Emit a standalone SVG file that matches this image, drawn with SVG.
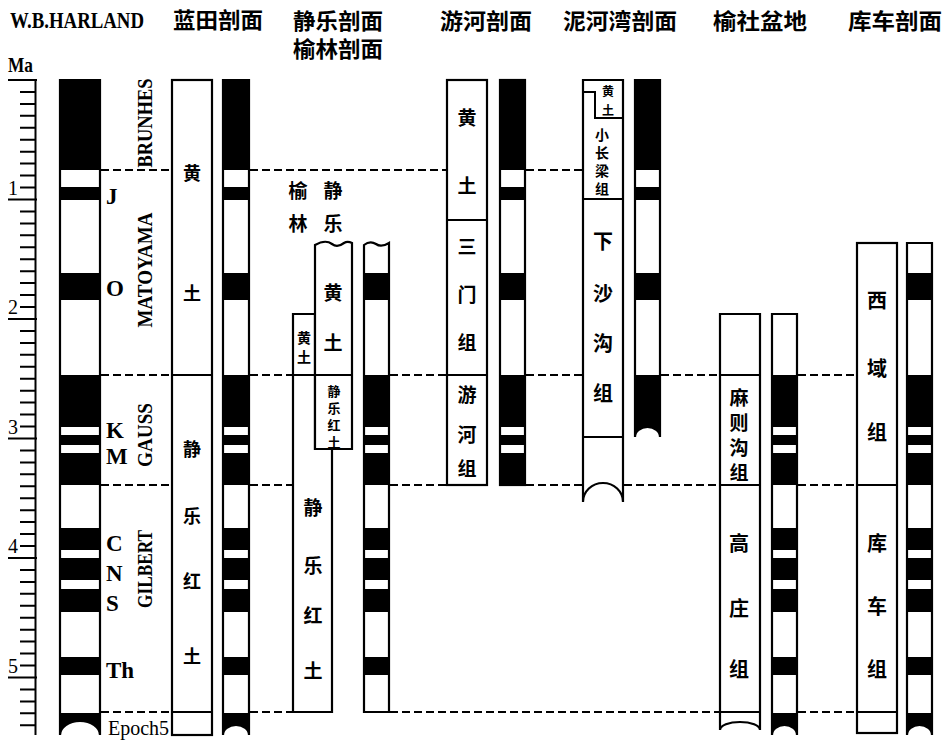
<svg xmlns="http://www.w3.org/2000/svg" width="944" height="740" viewBox="0 0 944 740">
<style>
.box{fill:#fff;stroke:#000;stroke-width:2.2}
.ln{fill:none;stroke:#000;stroke-width:2}
.blk{fill:#000}
.dash{fill:none;stroke:#000;stroke-width:2;stroke-dasharray:8 4}
.cn{font-family:"Noto Sans CJK SC",sans-serif;font-weight:bold;text-anchor:middle;dominant-baseline:central;fill:#000}
.hd{font-family:"Noto Sans CJK SC",sans-serif;font-weight:bold;font-size:22px;text-anchor:middle;fill:#000}
.lat{font-family:"Liberation Serif",serif;fill:#000}
.b{font-weight:bold}
</style>
<rect width="944" height="740" fill="#fff"/>

<g id="headers">
<text class="lat b" x="10" y="28" font-size="24" textLength="134" lengthAdjust="spacingAndGlyphs">W.B.HARLAND</text>
<text class="hd" x="218" y="28" textLength="90" lengthAdjust="spacingAndGlyphs">蓝田剖面</text>
<text class="hd" x="338" y="29" textLength="90" lengthAdjust="spacingAndGlyphs">静乐剖面</text>
<text class="hd" x="338" y="57" textLength="90" lengthAdjust="spacingAndGlyphs">榆林剖面</text>
<text class="hd" x="486" y="29" textLength="92" lengthAdjust="spacingAndGlyphs">游河剖面</text>
<text class="hd" x="620" y="29" textLength="114" lengthAdjust="spacingAndGlyphs">泥河湾剖面</text>
<text class="hd" x="760" y="29" textLength="94" lengthAdjust="spacingAndGlyphs">榆社盆地</text>
<text class="hd" x="895" y="29" textLength="94" lengthAdjust="spacingAndGlyphs">库车剖面</text>
</g>

<g id="ruler">
<text class="lat b" x="8" y="72" font-size="21" textLength="25" lengthAdjust="spacingAndGlyphs">Ma</text>
<path class="ln" stroke-width="2.5" d="M35.5,79 V735"/>
<path class="ln" d="M8,80H37 M20,91.9H35 M20,103.9H35 M20,115.8H35 M20,127.8H35 M20,139.7H35 M20,151.7H35 M20,163.6H35 M20,175.6H35 M20,187.5H35 M8,199.5H37 M20,211.4H35 M20,223.4H35 M20,235.3H35 M20,247.3H35 M20,259.2H35 M20,271.2H35 M20,283.1H35 M20,295.1H35 M20,307H35 M8,319H37 M20,331H35 M20,342.9H35 M20,354.8H35 M20,366.8H35 M20,378.7H35 M20,390.7H35 M20,402.6H35 M20,414.6H35 M20,426.5H35 M8,438.5H37 M20,450.4H35 M20,462.4H35 M20,474.3H35 M20,486.3H35 M20,498.2H35 M20,510.2H35 M20,522.1H35 M20,534.1H35 M20,546H35 M8,558H37 M20,570H35 M20,581.9H35 M20,593.8H35 M20,605.8H35 M20,617.7H35 M20,629.7H35 M20,641.6H35 M20,653.6H35 M20,665.5H35 M8,677.5H37 M20,689.4H35 M20,701.4H35 M20,713.3H35 M20,725.3H35"/>
<text class="lat" x="8" y="195" font-size="20">1</text>
<text class="lat" x="8" y="314" font-size="20">2</text>
<text class="lat" x="8" y="434" font-size="20">3</text>
<text class="lat" x="8" y="553" font-size="20">4</text>
<text class="lat" x="8" y="673" font-size="20">5</text>
</g>

<g id="harland">
<path class="box" d="M60,80 H100 V735 A20,14 0 0 0 60,735 Z"/>
<g class="blk">
<rect x="60" y="80" width="40" height="90"/>
<rect x="60" y="187" width="40" height="13"/>
<rect x="60" y="273" width="40" height="27"/>
<rect x="60" y="375" width="40" height="52"/>
<rect x="60" y="435" width="40" height="10"/>
<rect x="60" y="453" width="40" height="32"/>
<rect x="60" y="528" width="40" height="22"/>
<rect x="60" y="558" width="40" height="22"/>
<rect x="60" y="589" width="40" height="23"/>
<rect x="60" y="657" width="40" height="18"/>
<path d="M60,713 H100 V735 A20,14 0 0 0 60,735 Z"/>
</g>
<g class="lat b" font-size="23">
<text x="106" y="204">J</text>
<text x="106" y="296">O</text>
<text x="106" y="438">K</text>
<text x="106" y="464">M</text>
<text x="106" y="551">C</text>
<text x="106" y="581">N</text>
<text x="106" y="611">S</text>
<text x="106" y="678">Th</text>
</g>
<text class="lat" x="108" y="735" font-size="20">Epoch5</text>
<g class="lat b" font-size="21" text-anchor="middle">
<text transform="translate(152,123) rotate(-90)" textLength="89" lengthAdjust="spacingAndGlyphs">BRUNHES</text>
<text transform="translate(152,270) rotate(-90)" textLength="115" lengthAdjust="spacingAndGlyphs">MATOYAMA</text>
<text transform="translate(152,435) rotate(-90)" textLength="64" lengthAdjust="spacingAndGlyphs">GAUSS</text>
<text transform="translate(152,569) rotate(-90)" textLength="78" lengthAdjust="spacingAndGlyphs">GILBERT</text>
</g>
</g>

<g id="lantian-litho">
<rect class="box" x="172" y="80" width="40" height="655"/>
<path class="ln" d="M172,375 H212 M172,712 H212"/>
<g class="cn" font-size="18">
<text x="192" y="172">黄</text>
<text x="192" y="292">土</text>
<text x="192" y="448">静</text>
<text x="192" y="515">乐</text>
<text x="192" y="580">红</text>
<text x="192" y="655">土</text>
</g>
</g>

<g id="lantian-pol">
<path class="box" d="M223,80 H249 V735 A13,10 0 0 0 223,735 Z"/>
<g class="blk">
<rect x="223" y="80" width="26" height="90"/>
<rect x="223" y="187" width="26" height="13"/>
<rect x="223" y="273" width="26" height="27"/>
<rect x="223" y="375" width="26" height="52"/>
<rect x="223" y="435" width="26" height="10"/>
<rect x="223" y="453" width="26" height="32"/>
<rect x="223" y="528" width="26" height="22"/>
<rect x="223" y="558" width="26" height="22"/>
<rect x="223" y="589" width="26" height="23"/>
<rect x="223" y="657" width="26" height="18"/>
<path d="M223,713 H249 V735 A13,10 0 0 0 223,735 Z"/>
</g>
</g>

<g id="yulin-jingle-label">
<g class="cn" font-size="19">
<text x="298" y="189">榆</text>
<text x="333" y="189">静</text>
<text x="298" y="222">林</text>
<text x="333" y="222">乐</text>
</g>
</g>

<g id="yulin">
<path class="box" d="M293,314 H315 V449 H332 V712 H293 Z"/>
<path class="ln" d="M293,375 H315"/>
<g class="cn" font-size="14">
<text x="304" y="337">黄</text>
<text x="304" y="356">土</text>
</g>
<g class="cn" font-size="19">
<text x="313" y="506">静</text>
<text x="313" y="564">乐</text>
<text x="313" y="614">红</text>
<text x="313" y="669">土</text>
</g>
</g>

<g id="jingle-litho">
<path class="box" d="M315,449 V245 C322,241 328,241 332,244 C336,247 340,246 344,243 C347,241 350,242 352,243 V449 Z"/>
<path class="ln" d="M315,375 H352"/>
<g class="cn" font-size="19">
<text x="333" y="291">黄</text>
<text x="333" y="341">土</text>
</g>
<g class="cn" font-size="13">
<text x="334" y="390">静</text>
<text x="334" y="407">乐</text>
<text x="334" y="424">红</text>
<text x="334" y="441">土</text>
</g>
</g>

<g id="jingle-pol">
<path class="box" d="M364,712 V245 C369,241 373,242 376,244 C380,247 384,246 389,243 V712 Z"/>
<g class="blk">
<rect x="364" y="273" width="25" height="27"/>
<rect x="364" y="375" width="25" height="52"/>
<rect x="364" y="435" width="25" height="10"/>
<rect x="364" y="453" width="25" height="32"/>
<rect x="364" y="528" width="25" height="22"/>
<rect x="364" y="558" width="25" height="22"/>
<rect x="364" y="589" width="25" height="23"/>
<rect x="364" y="657" width="25" height="18"/>
</g>
</g>

<g id="youhe-litho">
<rect class="box" x="447" y="80" width="40" height="405"/>
<path class="ln" d="M447,220 H487 M447,375 H487"/>
<g class="cn" font-size="19">
<text x="467" y="116">黄</text>
<text x="467" y="184">土</text>
<text x="467" y="245">三</text>
<text x="467" y="293">门</text>
<text x="467" y="341">组</text>
<text x="467" y="393">游</text>
<text x="467" y="433">河</text>
<text x="467" y="467">组</text>
</g>
</g>

<g id="youhe-pol">
<rect class="box" x="500" y="80" width="25" height="405"/>
<g class="blk">
<rect x="500" y="80" width="25" height="90"/>
<rect x="500" y="187" width="25" height="13"/>
<rect x="500" y="273" width="25" height="27"/>
<rect x="500" y="375" width="25" height="52"/>
<rect x="500" y="435" width="25" height="10"/>
<rect x="500" y="453" width="25" height="32"/>
</g>
</g>

<g id="nihewan-litho">
<path class="box" d="M583,80 H623 V502 A20,19 0 0 0 583,502 Z"/>
<path class="ln" d="M583,92 H595 V118 H623 M583,199 H623 M583,437 H623"/>
<g class="cn" font-size="12">
<text x="608" y="90">黄</text>
<text x="608" y="109">土</text>
</g>
<g class="cn" font-size="14">
<text x="602" y="134">小</text>
<text x="602" y="152">长</text>
<text x="602" y="170">梁</text>
<text x="602" y="188">组</text>
</g>
<g class="cn" font-size="20">
<text x="603" y="240">下</text>
<text x="603" y="292">沙</text>
<text x="603" y="342">沟</text>
<text x="603" y="392">组</text>
</g>
</g>

<g id="nihewan-pol">
<path class="box" d="M635,80 H660 V437 A12.5,10 0 0 0 635,437 Z"/>
<g class="blk">
<rect x="635" y="80" width="25" height="90"/>
<rect x="635" y="187" width="25" height="13"/>
<rect x="635" y="273" width="25" height="27"/>
<path d="M635,375 H660 V437 A12.5,10 0 0 0 635,437 Z"/>
</g>
</g>

<g id="yushe-litho">
<path class="box" d="M720,314 H760 V730 A20,8 0 0 0 720,730 Z"/>
<path class="ln" d="M720,375 H760 M720,485 H760 M720,712 H760"/>
<g class="cn" font-size="19">
<text x="739" y="396">麻</text>
<text x="739" y="421">则</text>
<text x="739" y="446">沟</text>
<text x="739" y="471">组</text>
</g>
<g class="cn" font-size="20">
<text x="739" y="542">高</text>
<text x="739" y="607">庄</text>
<text x="739" y="668">组</text>
</g>
</g>

<g id="yushe-pol">
<path class="box" d="M772,314 H797 V735 A12.5,10 0 0 0 772,735 Z"/>
<g class="blk">
<rect x="772" y="375" width="25" height="52"/>
<rect x="772" y="435" width="25" height="10"/>
<rect x="772" y="453" width="25" height="32"/>
<rect x="772" y="528" width="25" height="22"/>
<rect x="772" y="558" width="25" height="22"/>
<rect x="772" y="589" width="25" height="23"/>
<rect x="772" y="657" width="25" height="18"/>
<path d="M772,713 H797 V735 A12.5,10 0 0 0 772,735 Z"/>
</g>
</g>

<g id="kuqa-litho">
<rect class="box" x="857" y="243" width="40" height="490"/>
<path class="ln" d="M857,485 H897 M857,712 H897"/>
<g class="cn" font-size="20">
<text x="877" y="299">西</text>
<text x="877" y="367">域</text>
<text x="877" y="431">组</text>
<text x="877" y="542">库</text>
<text x="877" y="605">车</text>
<text x="877" y="668">组</text>
</g>
</g>

<g id="kuqa-pol">
<path class="box" d="M907,243 H932 V735 A12.5,10 0 0 0 907,735 Z"/>
<g class="blk">
<rect x="907" y="273" width="25" height="27"/>
<rect x="907" y="375" width="25" height="52"/>
<rect x="907" y="435" width="25" height="10"/>
<rect x="907" y="453" width="25" height="32"/>
<rect x="907" y="528" width="25" height="22"/>
<rect x="907" y="558" width="25" height="22"/>
<rect x="907" y="589" width="25" height="23"/>
<rect x="907" y="657" width="25" height="18"/>
<path d="M907,713 H932 V735 A12.5,10 0 0 0 907,735 Z"/>
</g>
</g>

<g id="connectors">
<path class="dash" d="M101,170 H171 M250,170 H446 M526,170 H582"/>
<path class="dash" d="M101,375 H171 M250,375 H292 M390,375 H446 M526,375 H582 M661,375 H719 M798,375 H856"/>
<path class="dash" d="M101,485 H171 M250,485 H292 M390,485 H446 M526,485 H582 M624,485 H719 M798,485 H856"/>
<path class="dash" d="M101,712 H171 M250,712 H292 M390,712 H719 M798,712 H856"/>
</g>
</svg>
